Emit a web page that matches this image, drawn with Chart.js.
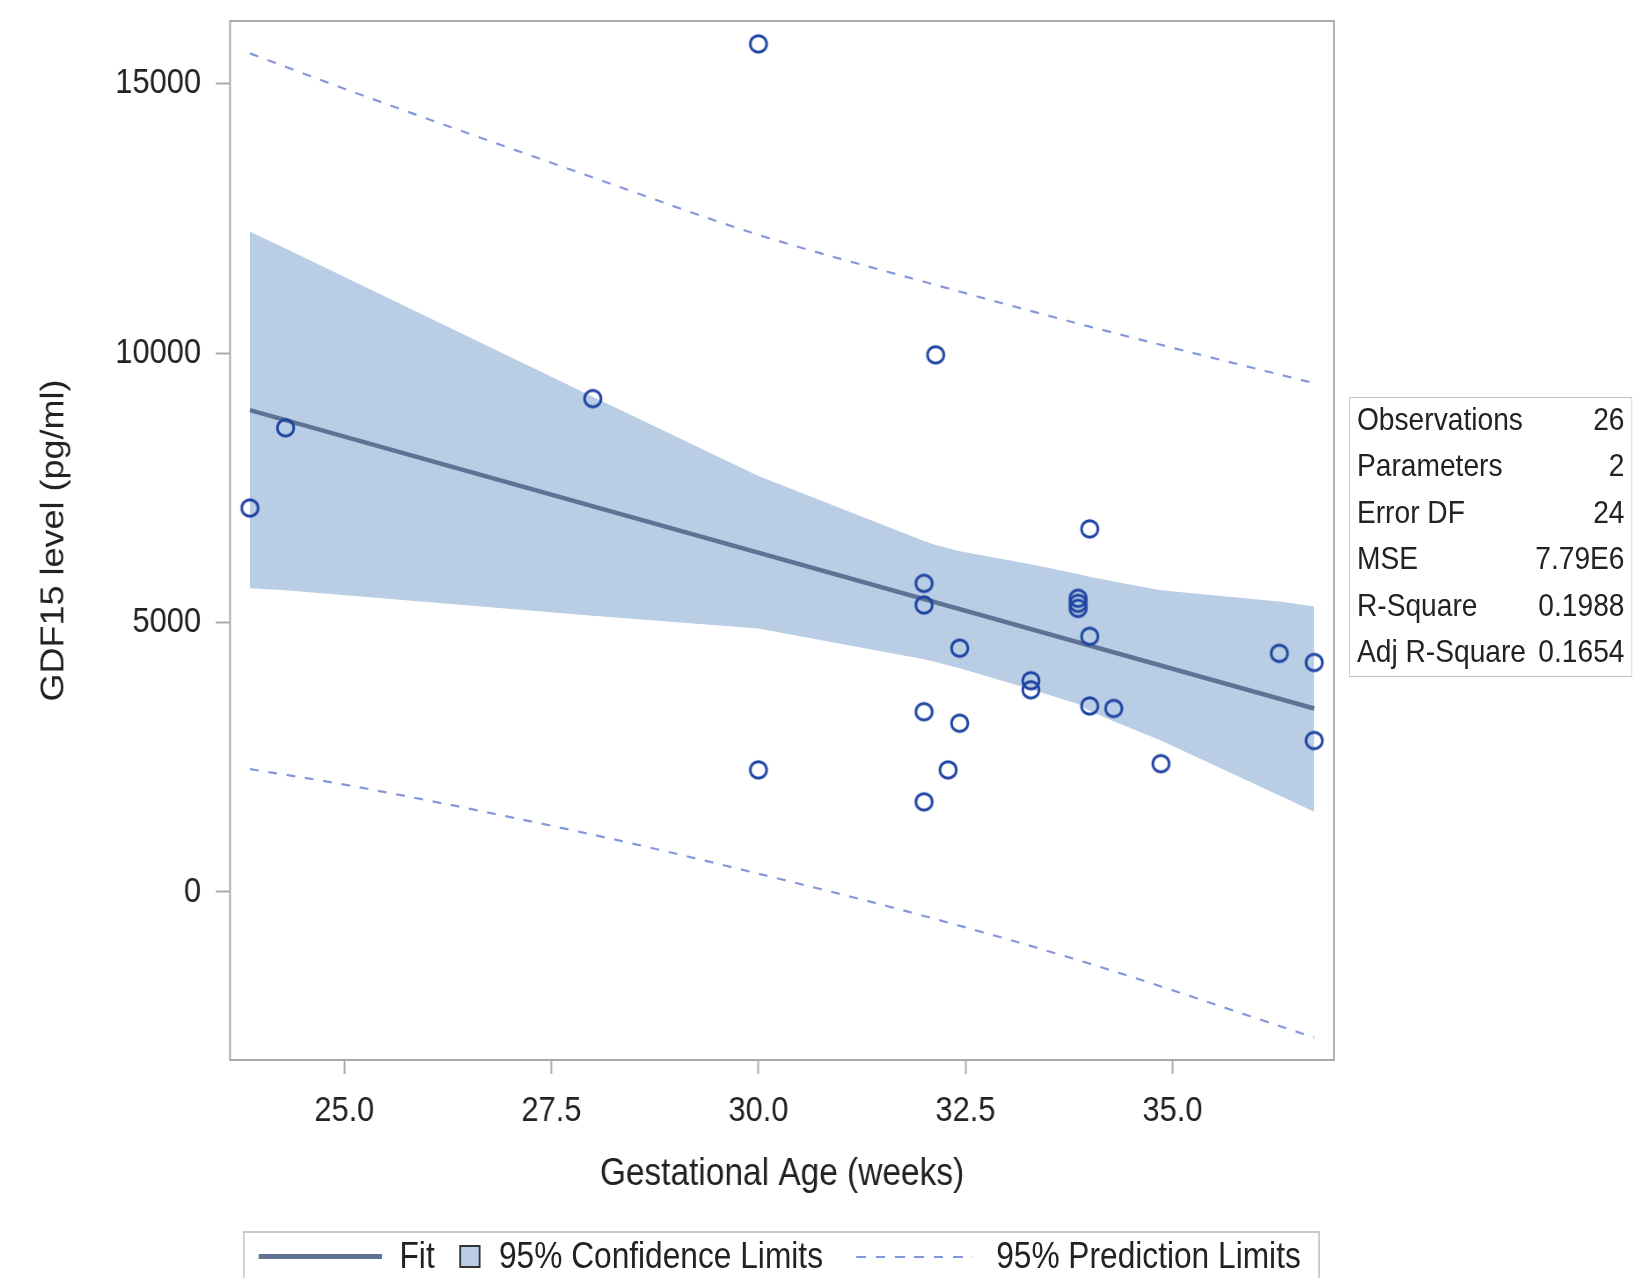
<!DOCTYPE html>
<html><head><meta charset="utf-8">
<script src="https://cdn.jsdelivr.net/npm/chart.js@4.4.1/dist/chart.umd.min.js"></script>
<style>
html,body{margin:0;padding:0;background:#fff;overflow:hidden;width:1636px;height:1278px;}
#wrap{position:absolute;left:0;top:0;width:1859px;height:1278px;transform:scaleX(0.88);transform-origin:0 0;font-family:"Liberation Sans",Arial,sans-serif;color:#222;}
#c{position:absolute;left:0;top:0;}
#stats{position:absolute;left:1533px;top:397px;width:322px;height:280px;border:1.5px solid #c4c4c4;box-sizing:border-box;}
.row{position:absolute;left:8px;right:8px;height:40px;line-height:40px;font-size:32px;white-space:nowrap;}
.row .v{position:absolute;right:0;top:0;}
#legend{position:absolute;left:276px;top:1231px;width:1224px;height:90px;border:2px solid #c8c8c8;box-sizing:border-box;}
.lt{position:absolute;top:1234px;height:44px;line-height:44px;font-size:36px;white-space:nowrap;}
</style></head>
<body>
<div id="wrap">
<canvas id="c" width="1859" height="1278"></canvas>
<div id="stats"></div>
<div id="legend"></div>
<div style="position:absolute;left:294px;top:1254px;width:140px;height:5px;background:#5f7294;"></div>
<span class="lt" style="left:454px;">Fit</span>
<div style="position:absolute;left:522px;top:1245px;width:24px;height:23px;background:#b9cde5;border:2px solid #333;box-sizing:border-box;"></div>
<span class="lt" style="left:567px;">95% Confidence Limits</span>
<div style="position:absolute;left:973px;top:1256px;width:132px;height:2px;background:repeating-linear-gradient(to right,#8595da 0 11px,transparent 11px 22px);"></div>
<span class="lt" style="left:1132px;">95% Prediction Limits</span>
</div>
<script>
// Observed data
const gestAge = [23.86, 24.29, 28.0, 30.0, 30.0, 32.14, 32.0, 32.0, 32.0, 32.0, 32.29, 32.43, 32.43, 33.29, 33.29, 33.86, 33.86, 33.86, 34.0, 34.0, 34.0, 34.29, 34.86, 36.29, 36.71, 36.71];
const gdf15   = [7124, 8612, 9154, 15735, 2265, 9966, 5727, 5325, 3345, 1673, 2265, 4524, 3131, 3920, 3752, 5449, 5356, 5263, 6737, 4743, 3451, 3405, 2381, 4428, 4258, 2810];

// Fit line
const fitX = [23.86, 36.71];
const fitY = [8940, 3405];

// 95% confidence limits
const ciX     = [23.86, 24.29, 28.0, 30.0, 32.0, 32.14, 32.29, 32.43, 33.29, 33.86, 34.0, 34.29, 34.86, 36.29, 36.71];
const ciUpper = [12250, 11940, 9190, 7720, 6510, 6440, 6380, 6320, 6080, 5900, 5850, 5760, 5600, 5390, 5295];
const ciLower = [5634, 5600, 5124, 4890, 4320, 4265, 4205, 4150, 3760, 3490, 3360, 3170, 2810, 1790, 1490];

// 95% prediction limits
const piX     = [23.86, 25.0, 28.0, 30.0, 32.0, 34.0, 36.71];
const piUpper = [15560, 14904, 13258, 12193, 11322, 10490, 9440];
const piLower = [2280, 1993, 1063, 340, -445, -1330, -2700];

// Axis ticks
const xTickValues = [25.0, 27.5, 30.0, 32.5, 35.0];
const xTickLabels = ['25.0', '27.5', '30.0', '32.5', '35.0'];
const yTickValues = [0, 5000, 10000, 15000];
const yTickLabels = ['0', '5000', '10000', '15000'];

// Fit statistics
const statLabels = ['Observations', 'Parameters', 'Error DF', 'MSE', 'R-Square', 'Adj R-Square'];
const statValues = ['26', '2', '24', '7.79E6', '0.1988', '0.1654'];

const pts = (xs, ys) => xs.map((x, i) => ({x: x, y: ys[i]}));

// stats table
const st = document.getElementById('stats');
const rowCenters = [21, 67, 114, 160, 207, 253];
statLabels.forEach((l, i) => {
  const r = document.createElement('div');
  r.className = 'row';
  r.style.top = (rowCenters[i] - 20) + 'px';
  r.innerHTML = '<span>' + l + '</span><span class="v">' + statValues[i] + '</span>';
  st.appendChild(r);
});

// hollow circle marker, pre-stretched so it looks round after the page's horizontal scale
const SX = 0.88;
function ringMarker(r, lw, color) {
  const w = Math.ceil((2 * r + lw + 2) / SX), h = Math.ceil(2 * r + lw + 2);
  const cv = document.createElement('canvas');
  cv.width = w; cv.height = h;
  const g = cv.getContext('2d');
  g.save();
  g.translate(w / 2, h / 2);
  g.scale(1 / SX, 1);
  g.beginPath();
  g.arc(0, 0, r, 0, Math.PI * 2);
  g.restore();
  g.strokeStyle = color;
  g.lineWidth = lw;
  g.stroke();
  return cv;
}
const marker = ringMarker(8.2, 2.9, '#1f44a3');

const framePlugin = {
  id: 'frame',
  afterDatasetsDraw(chart) {
    const a = chart.chartArea, ctx = chart.ctx;
    ctx.save();
    ctx.strokeStyle = '#a9a9a9';
    ctx.lineWidth = 2;
    ctx.strokeRect(a.left, a.top, a.right - a.left, a.bottom - a.top);
    ctx.restore();
  }
};

const tickFont = {family: '"Liberation Sans", Arial, sans-serif', size: 35};

new Chart(document.getElementById('c'), {
  type: 'scatter',
  data: {
    datasets: [
      {type: 'scatter', data: pts(gestAge, gdf15), order: 0, pointStyle: marker, pointRadius: 8},
      {type: 'line', data: pts(fitX, fitY), order: 1, borderColor: '#5f7294', borderWidth: 4.5,
       pointRadius: 0, fill: false, tension: 0},
      {type: 'line', data: pts(piX, piUpper), order: 2, borderColor: '#8595da', borderWidth: 2.2,
       borderDash: [10, 11], pointRadius: 0, fill: false, cubicInterpolationMode: 'monotone'},
      {type: 'line', data: pts(piX, piLower), order: 2, borderColor: '#8595da', borderWidth: 2.2,
       borderDash: [10, 11], pointRadius: 0, fill: false, cubicInterpolationMode: 'monotone'},
      {type: 'line', data: pts(ciX, ciLower), order: 3, borderWidth: 0, borderColor: 'rgba(0,0,0,0)',
       pointRadius: 0, fill: false, tension: 0},
      {type: 'line', data: pts(ciX, ciUpper), order: 3, borderWidth: 0, borderColor: 'rgba(0,0,0,0)',
       pointRadius: 0, fill: '-1', backgroundColor: '#b9cde5', tension: 0}
    ]
  },
  options: {
    responsive: false,
    animation: false,
    events: [],
    layout: {padding: {left: 0, top: 21, right: 343.1, bottom: 0}},
    plugins: {legend: {display: false}, tooltip: {enabled: false}},
    scales: {
      x: {
        type: 'linear', min: 23.62, max: 36.95,
        afterBuildTicks: s => { s.ticks = xTickValues.map(v => ({value: v})); },
        afterFit: s => { s.height = 218; s.paddingLeft = 0; s.paddingRight = 0; },
        ticks: {callback: (v, i) => xTickLabels[i], font: tickFont, color: '#222', padding: 16, maxRotation: 0},
        grid: {display: true, drawOnChartArea: false, drawTicks: true, tickLength: 14, tickColor: '#a9a9a9', tickWidth: 2},
        border: {display: false},
        title: {display: true, text: 'Gestational Age (weeks)', color: '#222',
                font: {family: '"Liberation Sans", Arial, sans-serif', size: 38}, padding: {top: 0, bottom: 81}}
      },
      y: {
        type: 'linear', min: -3117, max: 16160,
        afterBuildTicks: s => { s.ticks = yTickValues.map(v => ({value: v})); },
        afterFit: s => { s.width = 261.4; s.paddingTop = 0; s.paddingBottom = 0; },
        ticks: {callback: (v, i) => yTickLabels[i], font: tickFont, color: '#222', padding: 17},
        grid: {display: true, drawOnChartArea: false, drawTicks: true, tickLength: 16, tickColor: '#a9a9a9', tickWidth: 2},
        border: {display: false},
        title: {display: true, text: 'GDF15 level (pg/ml)', color: '#222',
                font: {family: '"Liberation Sans", Arial, sans-serif', size: 36}, padding: {top: 40, bottom: 0}}
      }
    }
  },
  plugins: [framePlugin]
});
</script>
</body></html>
